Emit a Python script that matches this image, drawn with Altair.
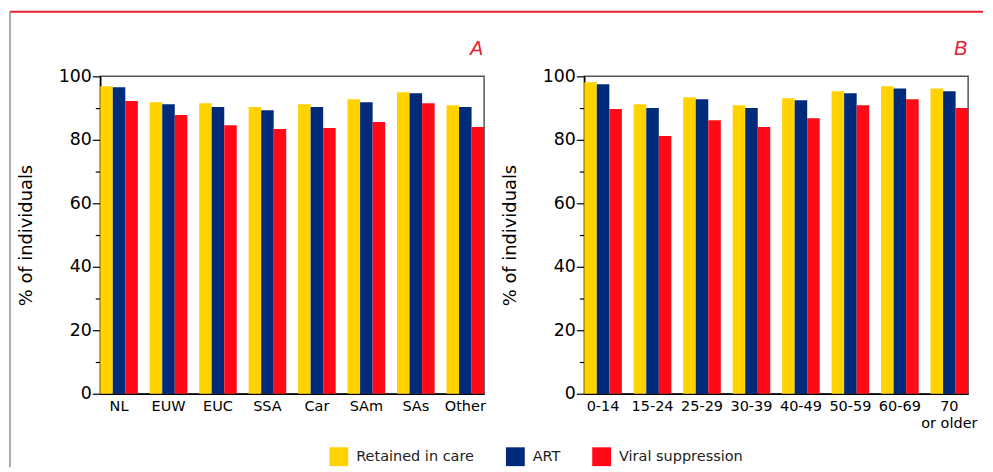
import altair as alt
import pandas as pd

series = ["Retained in care", "ART", "Viral suppression"]
colors = ["#FFD200", "#002A7A", "#FF0A16"]

regions = ["NL", "EUW", "EUC", "SSA", "Car", "SAm", "SAs", "Other"]
retained_A = [96.9, 91.8, 91.5, 90.3, 91.2, 92.8, 95.0, 90.9]
art_A = [96.6, 91.2, 90.3, 89.3, 90.3, 91.8, 94.7, 90.3]
vs_A = [92.2, 87.8, 84.6, 83.4, 83.7, 85.6, 91.5, 84.0]

ages = ["0-14", "15-24", "25-29", "30-39", "40-49", "50-59", "60-69", "70 or older"]
retained_B = [98.1, 91.2, 93.4, 90.9, 93.1, 95.3, 96.9, 96.2]
art_B = [97.5, 90.0, 92.8, 90.0, 92.5, 94.7, 96.2, 95.3]
vs_B = [89.7, 81.2, 86.2, 84.0, 86.8, 90.9, 92.8, 90.0]

y_ticks = [0, 10, 20, 30, 40, 50, 60, 70, 80, 90, 100]
panel_letters = ["A", "B"]

FONT = "DejaVu Sans"


def make_df(cats, a, b, c):
    rows = []
    for i, cat in enumerate(cats):
        for s, vals in zip(series, [a, b, c]):
            rows.append({"cat": cat, "series": s, "value": vals[i]})
    return pd.DataFrame(rows)


def panel(df, cats, letter, decor=False):
    base = alt.Chart(df).mark_bar().encode(
        x=alt.X("cat:N", sort=cats, title=None,
                scale=alt.Scale(paddingInner=0.24, paddingOuter=0),
                axis=alt.Axis(labelAngle=0, ticks=False, labelFontSize=14.6,
                              labelFont=FONT, labelColor="#000", labelPadding=5,
                              domainColor="#000", domainWidth=1.5,
                              labelExpr="datum.label == '70 or older' ? ['70', 'or older'] : datum.label",
                              labelLineHeight=17)),
        xOffset=alt.XOffset("series:N", sort=series),
        y=alt.Y("value:Q", title="% of individuals",
                scale=alt.Scale(domain=[0, 100], nice=False),
                axis=alt.Axis(values=y_ticks, grid=False,
                              labelExpr="datum.value % 20 == 0 ? datum.label : ''",
                              labelFontSize=17.5, labelFont=FONT, labelColor="#000",
                              labelPadding=1,
                              tickSize={"condition": {"test": "datum.value % 20 != 0", "value": 5}, "value": 8},
                              tickColor="#000", tickWidth=1.2,
                              domainColor="#000", domainWidth=1.5,
                              titleFontSize=18, titleFont=FONT, titleFontWeight="normal",
                              titleColor="#000", titlePadding=23)),
        color=alt.Color("series:N", scale=alt.Scale(domain=series, range=colors),
                        legend=alt.Legend(title=None, orient="none", direction="horizontal",
                                          legendX=231, legendY=374,
                                          symbolType="square", symbolSize=361,
                                          symbolStrokeWidth=0, labelFontSize=14.6,
                                          labelFont=FONT, labelColor="#222",
                                          labelOffset=8, columnPadding=32, padding=0)),
    )
    one = alt.Chart(pd.DataFrame({"letter": [letter]}))
    label = one.mark_text(align="right", baseline="alphabetic", fontSize=20,
                          fontStyle="italic", font="Liberation Sans",
                          color="#E8202E").encode(
        x=alt.value(386), y=alt.value(-22), text="letter:N")
    layers = [base, label]
    if decor:
        top = one.mark_rule(color="#E8202E", strokeWidth=2).encode(
            x=alt.value(-91), x2=alt.value(890), y=alt.value(-65))
        left = one.mark_rule(color="#777", strokeWidth=1.2).encode(
            x=alt.value(-91), y=alt.value(-65), y2=alt.value(394))
        layers = [top, left] + layers
    return alt.layer(*layers).properties(width=387, height=320)


pA = panel(make_df(regions, retained_A, art_A, vs_A), regions, panel_letters[0], decor=True)
pB = panel(make_df(ages, retained_B, art_B, vs_B), ages, panel_letters[1])

chart = alt.hconcat(pA, pB, spacing=101, bounds="flush").properties(
    padding={"left": 0, "top": 0, "right": 0, "bottom": 0}
).configure_view(stroke="#555", strokeWidth=1.5)

chart.save("out.html", embed_options={"renderer": "svg", "actions": False})
